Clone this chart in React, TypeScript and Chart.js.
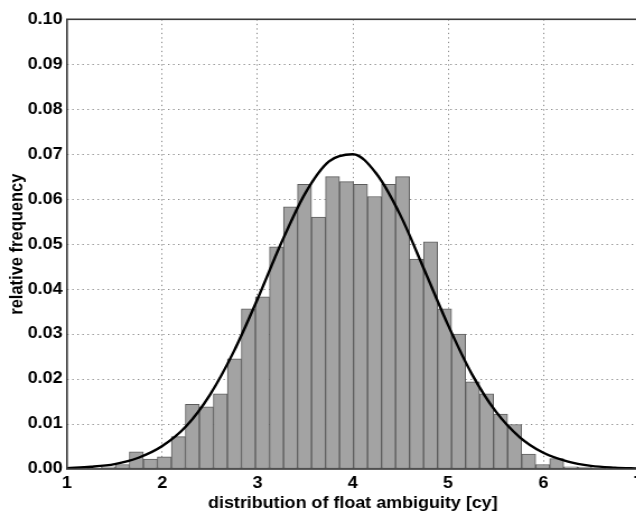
import React, { useEffect, useRef } from "react";
import { Chart, registerables } from "chart.js";

Chart.register(...registerables);

// Histogram bin centres [cy]
const binCenters = [
  1.287, 1.434, 1.581, 1.728, 1.875, 2.022, 2.169, 2.316, 2.463, 2.610,
  2.757, 2.904, 3.051, 3.199, 3.346, 3.493, 3.640, 3.787, 3.934, 4.081,
  4.228, 4.375, 4.522, 4.669, 4.816, 4.963, 5.110, 5.257, 5.404, 5.551,
  5.699, 5.846, 5.993, 6.140, 6.287, 6.434, 6.581,
];
// Relative frequency per bin
const relFreq = [
  0.0002, 0.0005, 0.0010, 0.0038, 0.0022, 0.0027, 0.0072, 0.0144, 0.0138, 0.0167,
  0.0245, 0.0356, 0.0383, 0.0494, 0.0583, 0.0633, 0.0560, 0.0650, 0.0639, 0.0633,
  0.0606, 0.0633, 0.0650, 0.0467, 0.0505, 0.0356, 0.0300, 0.0194, 0.0167, 0.0122,
  0.0099, 0.0033, 0.0010, 0.0023, 0.0005, 0.0004, 0.0002,
];
// Fitted density curve
const curveX = [
  1.0, 1.25, 1.5, 1.75, 2.0, 2.25, 2.5, 2.75, 3.0, 3.25, 3.5, 3.75, 4.0,
  4.25, 4.5, 4.75, 5.0, 5.25, 5.5, 5.75, 6.0, 6.25, 6.5, 6.75, 7.0,
];
const curveY = [
  0.0002, 0.0005, 0.0011, 0.0025, 0.0051, 0.0095, 0.0165, 0.0261, 0.0378, 0.0503, 0.0613, 0.0684, 0.0700,
  0.0656, 0.0564, 0.0443, 0.0320, 0.0211, 0.0128, 0.0071, 0.0036, 0.0017, 0.0007, 0.0003, 0.0001,
];
const xTicks = [1, 2, 3, 4, 5, 6, 7];
const yTicks = [0, 0.01, 0.02, 0.03, 0.04, 0.05, 0.06, 0.07, 0.08, 0.09, 0.1];

const xTitle = "distribution of float ambiguity [cy]";
const yTitle = "relative frequency";

const STRETCH = 1.12;
const W = 600;
const H = 514;
const FONT = '"Liberation Sans", Arial, Helvetica, sans-serif';

export default function App() {
  const ref = useRef<HTMLCanvasElement | null>(null);

  useEffect(() => {
    const canvas = ref.current;
    if (!canvas) return;

    const boxPlugin = {
      id: "box",
      afterDraw(chart: any) {
        const { ctx, chartArea } = chart;
        ctx.save();
        ctx.strokeStyle = "#3a3a3a";
        ctx.lineWidth = 1.6;
        ctx.strokeRect(chartArea.left, chartArea.top, chartArea.right - chartArea.left, chartArea.bottom - chartArea.top);
        ctx.restore();
      },
    };

    const bgPlugin = {
      id: "bg",
      beforeDraw(chart: any) {
        const { ctx } = chart;
        ctx.save();
        ctx.fillStyle = "#fff";
        ctx.fillRect(0, 0, chart.width, chart.height);
        ctx.restore();
      },
    };

    const chart = new Chart(canvas, {
      type: "bar",
      data: {
        datasets: [
          {
            type: "line",
            data: curveX.map((x, i) => ({ x, y: curveY[i] })),
            borderColor: "#000",
            borderWidth: 2.4,
            pointRadius: 0,
            fill: false,
            cubicInterpolationMode: "monotone",
            order: 0,
          } as any,
          {
            type: "bar",
            data: binCenters.map((x, i) => ({ x, y: relFreq[i] })),
            backgroundColor: "#a3a3a3",
            borderColor: "#5c5c5c",
            borderWidth: 1,
            borderSkipped: false,
            barPercentage: 1,
            categoryPercentage: 1,
            order: 1,
          } as any,
        ],
      },
      options: {
        animation: false,
        responsive: false,
        events: [],
        layout: { padding: { top: 19.3, right: W - 570.2, bottom: 0, left: 0 } },
        plugins: {
          legend: { display: false },
          tooltip: { enabled: false },
        },
        scales: {
          x: {
            type: "linear",
            offset: false,
            min: 1,
            max: 7,
            afterBuildTicks: (s: any) => {
              s.ticks = xTicks.map((v) => ({ value: v }));
            },
            afterFit: (s: any) => {
              s.height = 45;
            },
            ticks: {
              color: "#000",
              padding: 4.7,
              maxRotation: 0,
              autoSkip: false,
              font: { family: FONT, size: 16, weight: "bold" },
              callback: (v: any) => String(v),
            },
            grid: {
              offset: false,
              drawTicks: false,
              lineWidth: 1,
              color: (c: any) =>
                c.index === 0 || c.index === xTicks.length - 1 ? "rgba(0,0,0,0)" : "#8c8c8c",
            },
            border: { display: false, dash: [1.3, 3.2] },
            title: {
              display: true,
              text: xTitle,
              color: "#000",
              font: { family: FONT, size: 16, weight: "bold", lineHeight: 1 },
              padding: { top: 0, bottom: 2.6 },
            },
          },
          y: {
            type: "linear",
            min: 0,
            max: 0.1,
            afterBuildTicks: (s: any) => {
              s.ticks = yTicks.map((v) => ({ value: v }));
            },
            afterFit: (s: any) => {
              s.width = 67 / STRETCH;
            },
            ticks: {
              color: "#000",
              padding: 4,
              autoSkip: false,
              font: { family: FONT, size: 16, weight: "bold" },
              callback: (v: any) => Number(v).toFixed(2),
            },
            grid: {
              drawTicks: false,
              lineWidth: 1,
              color: (c: any) =>
                c.index === 0 || c.index === yTicks.length - 1 ? "rgba(0,0,0,0)" : "#8c8c8c",
            },
            border: { display: false, dash: [1.3, 3.2] },
            title: {
              display: true,
              text: yTitle,
              color: "#000",
              font: { family: FONT, size: 16.5, weight: "bold", lineHeight: 1 },
              padding: { top: 7, bottom: 0 },
            },
          },
        },
      } as any,
      plugins: [bgPlugin, boxPlugin],
    });

    return () => {
      chart.destroy();
    };
  }, []);

  return (
    <div
      style={{
        position: "absolute",
        left: 0,
        top: 0,
        width: 636,
        height: 514,
        overflow: "hidden",
        background: "#fff",
      }}
    >
      <canvas
        ref={ref}
        width={W}
        height={H}
        style={{ width: `${W * STRETCH}px`, height: `${H}px`, display: "block" }}
      />
    </div>
  );
}
